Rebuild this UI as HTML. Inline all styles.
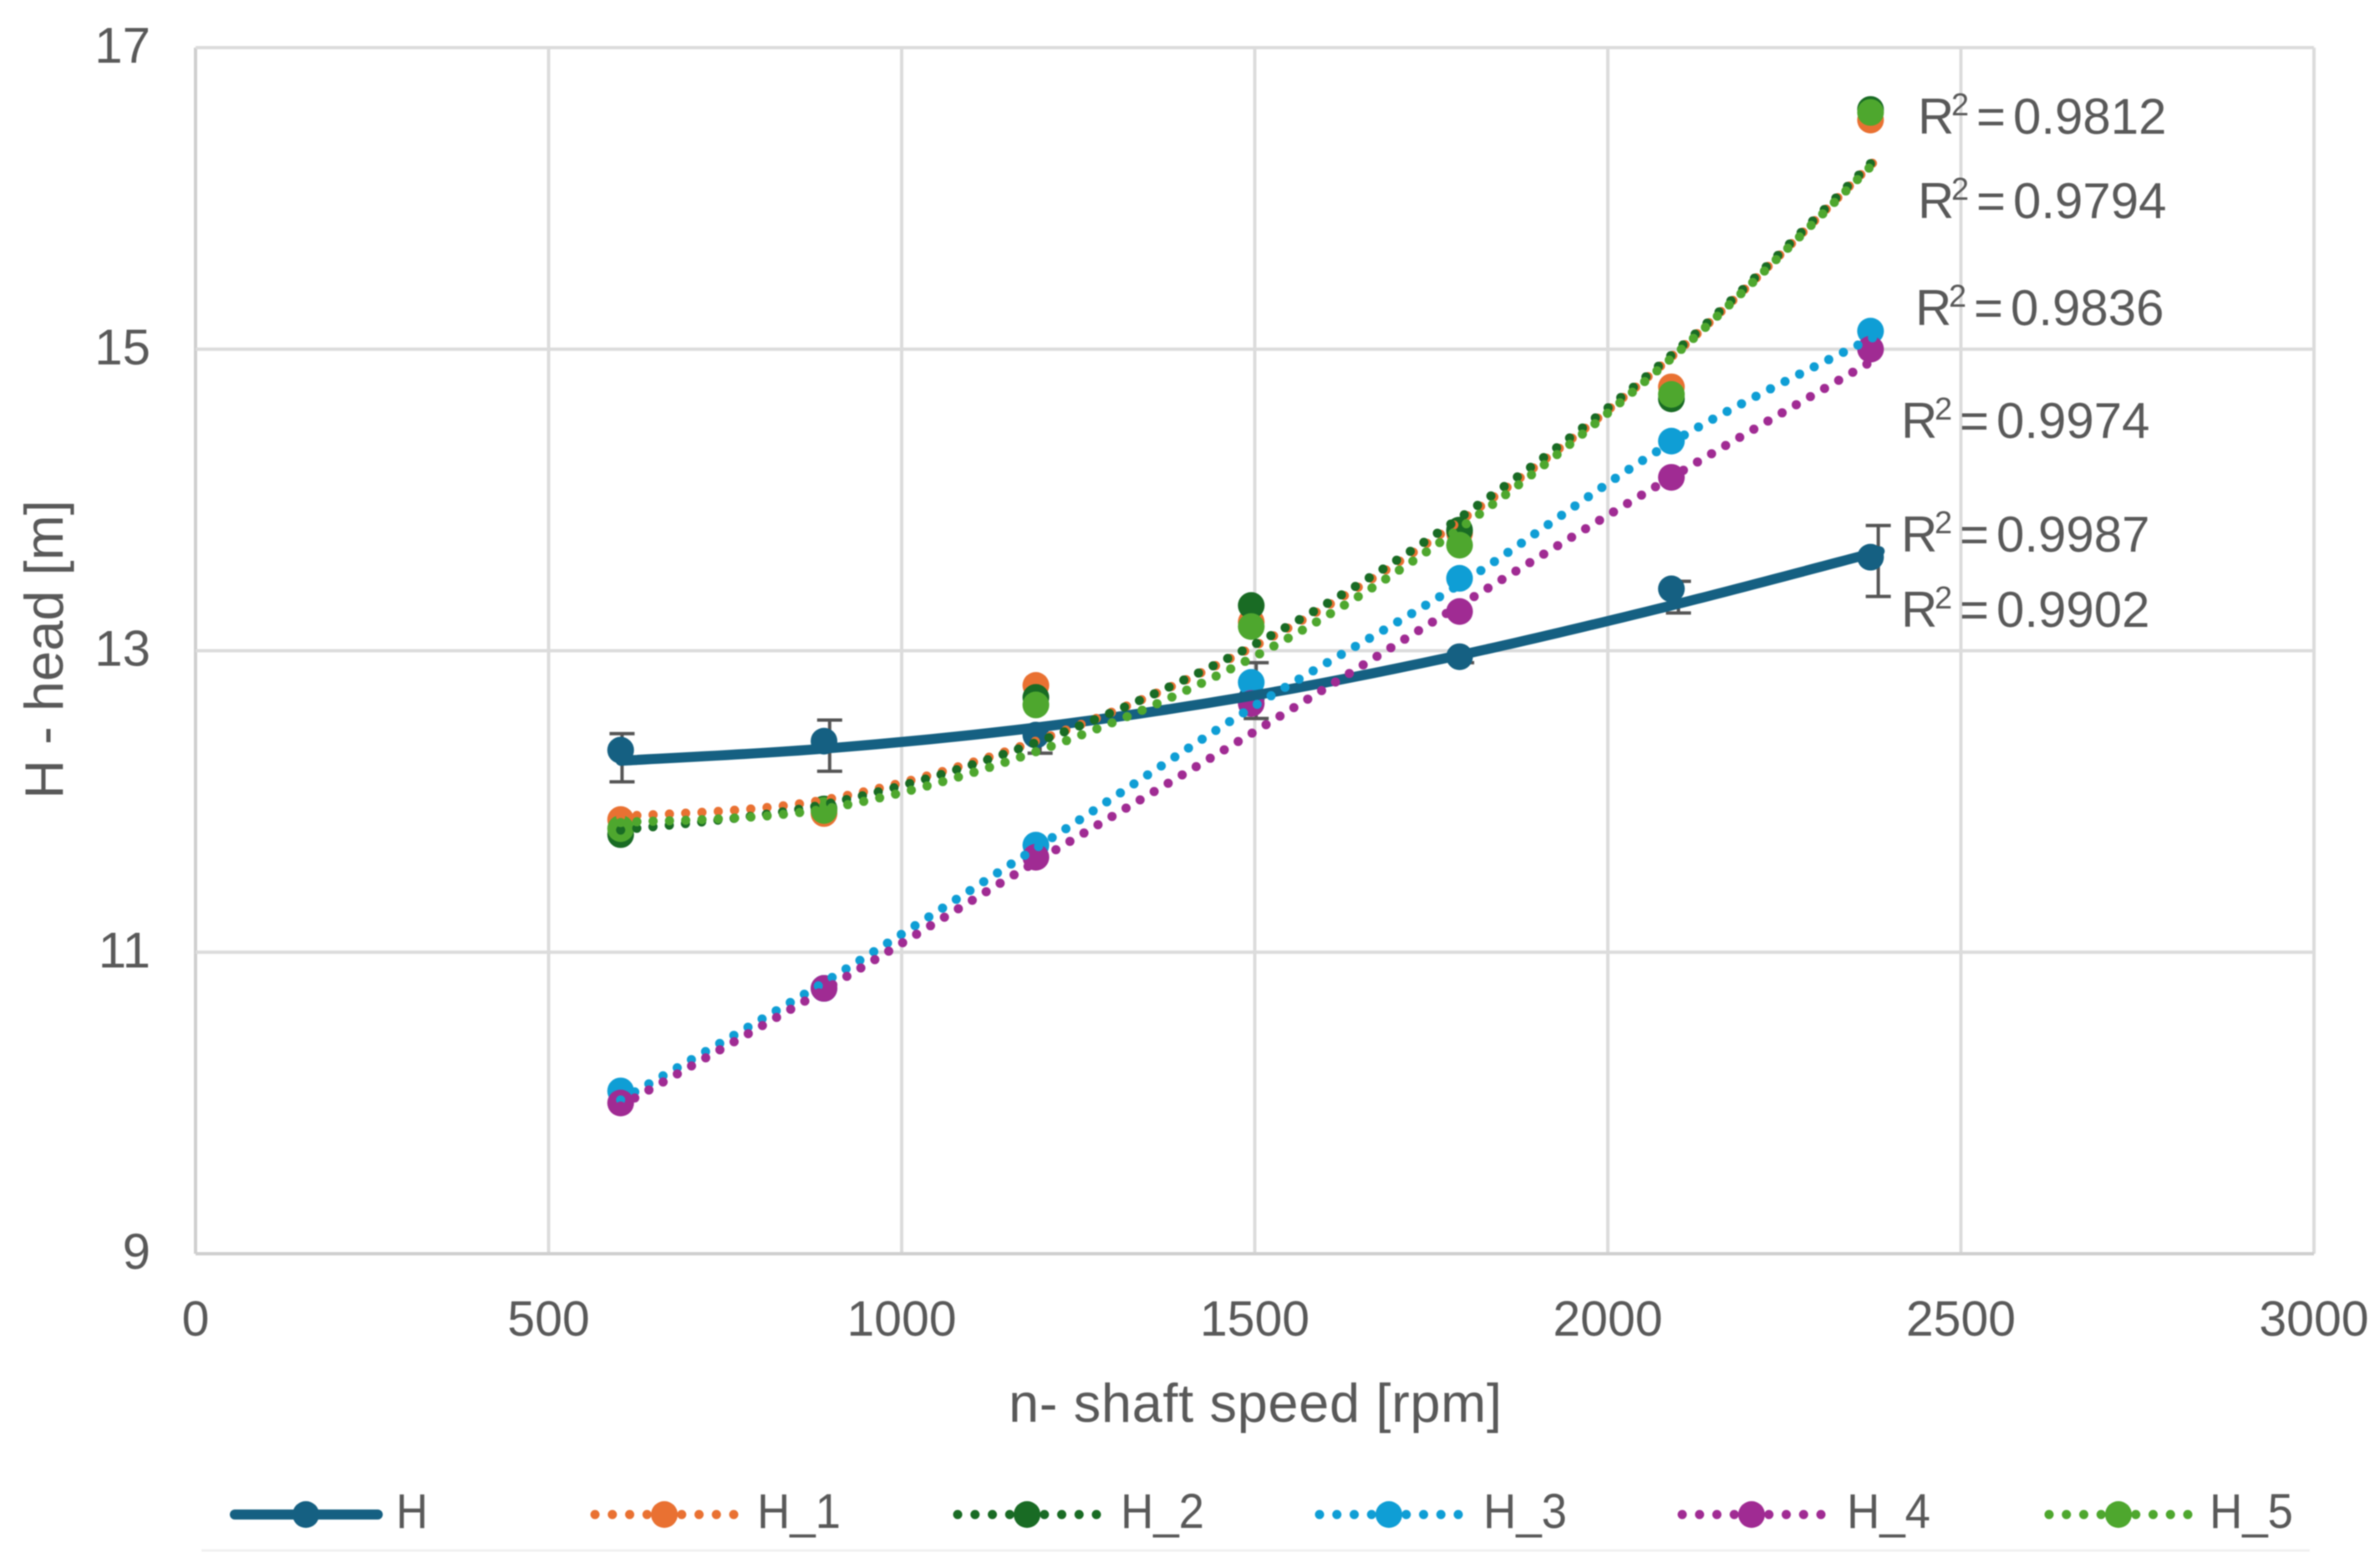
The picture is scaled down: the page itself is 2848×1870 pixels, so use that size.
<!DOCTYPE html>
<html>
<head>
<meta charset="utf-8">
<title>Head vs shaft speed</title>
<style>
html,body{margin:0;padding:0;background:#fff;width:2848px;height:1870px;overflow:hidden}
svg{display:block;filter:blur(0.7px)}
text{font-family:"Liberation Sans",sans-serif;fill:#595959}
</style>
</head>
<body>
<svg id="chart" width="2848" height="1870" viewBox="0 0 2848 1870" xmlns="http://www.w3.org/2000/svg">
<line x1="241" y1="1855" x2="2764" y2="1855" stroke="#f1f1f1" stroke-width="3"/>
<text x="1502" y="1701" font-size="65" text-anchor="middle" textLength="590" lengthAdjust="spacing">n- shaft speed [rpm]</text>
<text transform="translate(75,777) rotate(-90)" font-size="65" text-anchor="middle">H - head [m]</text>
</svg>
<script>
var xTicks = [0, 500, 1000, 1500, 2000, 2500, 3000];
var yTicks = [9, 11, 13, 15, 17];
var rpm = [602, 890, 1190, 1495, 1790, 2090, 2372];
var errRpm = [604, 898, 1196, 1502, 1793, 2100, 2383];
var trendRpm = [602, 890, 1190, 1495, 1790, 2090, 2385];

var seriesNames = ['H', 'H_1', 'H_2', 'H_3', 'H_4', 'H_5'];
var seriesColors = ['#156082', '#E97132', '#196B24', '#0F9ED5', '#A02B93', '#4EA72E'];

var valuesH  = [12.34, 12.40, 12.44, 12.68, 12.96, 13.41, 13.62];
var valuesH1 = [11.88, 11.92, 12.77, 13.19, 13.78, 14.75, 16.52];
var valuesH2 = [11.78, 11.95, 12.69, 13.30, 13.80, 14.67, 16.59];
var valuesH3 = [10.08, 10.76, 11.71, 12.79, 13.48, 14.39, 15.12];
var valuesH4 = [10.00, 10.76, 11.63, 12.65, 13.26, 14.15, 15.00];
var valuesH5 = [11.82, 11.94, 12.64, 13.16, 13.70, 14.70, 16.57];

var trendH  = [12.27, 12.35, 12.49, 12.70, 12.97, 13.30, 13.66];
var trendH1 = [11.90, 12.01, 12.40, 13.02, 13.86, 14.95, 16.28];
var trendH2 = [11.81, 11.98, 12.39, 13.03, 13.88, 14.96, 16.29];
var trendH3 = [10.02, 10.80, 11.69, 12.62, 13.44, 14.38, 15.10];
var trendH4 = [9.98, 10.75, 11.60, 12.45, 13.30, 14.15, 14.95];
var trendH5 = [11.86, 11.95, 12.33, 12.95, 13.81, 14.94, 16.27];

var errHigh = [12.45, 12.54, 12.50, 12.92, 12.98, 13.46, 13.83];
var errLow  = [12.13, 12.20, 12.32, 12.55, 12.92, 13.25, 13.36];

var r2Values = ['0.9812', '0.9794', '0.9836', '0.9974', '0.9987', '0.9902'];
var r2X = [2295, 2295, 2292, 2275, 2275, 2275];
var r2Y = [160, 261, 389, 524, 660, 750];

var allValues = [valuesH, valuesH1, valuesH2, valuesH3, valuesH4, valuesH5];
var allTrends = [trendH, trendH1, trendH2, trendH3, trendH4, trendH5];

var legendCenter = [366, 795, 1229, 1662, 2096, 2535];
var legendLabelX = [474, 906, 1341, 1775, 2210, 2644];

var PLOT = {left: 234, right: 2769, top: 57, bottom: 1500, xMax: 3000, yMin: 9, yMax: 17};
function sx(v) { return PLOT.left + (v / PLOT.xMax) * (PLOT.right - PLOT.left); }
function sy(v) { return PLOT.bottom - ((v - PLOT.yMin) / (PLOT.yMax - PLOT.yMin)) * (PLOT.bottom - PLOT.top); }

var svg = document.getElementById('chart');
var NS = 'http://www.w3.org/2000/svg';
function mk(tag, attrs, parent) {
  var el = document.createElementNS(NS, tag);
  for (var k in attrs) el.setAttribute(k, attrs[k]);
  (parent || svg).appendChild(el);
  return el;
}
function smoothPath(xs, ys) {
  var pts = xs.map(function (x, i) { return [sx(x), sy(ys[i])]; });
  var d = 'M' + pts[0][0].toFixed(1) + ' ' + pts[0][1].toFixed(1);
  for (var i = 0; i < pts.length - 1; i++) {
    var p0 = pts[Math.max(0, i - 1)], p1 = pts[i], p2 = pts[i + 1], p3 = pts[Math.min(pts.length - 1, i + 2)];
    var c1x = p1[0] + (p2[0] - p0[0]) / 6, c1y = p1[1] + (p2[1] - p0[1]) / 6;
    var c2x = p2[0] - (p3[0] - p1[0]) / 6, c2y = p2[1] - (p3[1] - p1[1]) / 6;
    d += 'C' + c1x.toFixed(1) + ' ' + c1y.toFixed(1) + ' ' + c2x.toFixed(1) + ' ' + c2y.toFixed(1) + ' ' + p2[0].toFixed(1) + ' ' + p2[1].toFixed(1);
  }
  return d;
}

/* grid */
xTicks.forEach(function (t) {
  var axis = t === 0;
  var el = mk('line', {x1: sx(t), x2: sx(t), y1: PLOT.top, y2: PLOT.bottom, stroke: axis ? '#cfcfcf' : '#dcdcdc', 'stroke-width': 4});
  
  
  var lb = mk('text', {x: sx(t), y: 1598, 'font-size': 59, 'text-anchor': 'middle'});
  lb.textContent = t;
  
  
});
yTicks.forEach(function (t) {
  var axis = t === PLOT.yMin;
  var el = mk('line', {x1: PLOT.left, x2: PLOT.right, y1: sy(t), y2: sy(t), stroke: axis ? '#cfcfcf' : '#dcdcdc', 'stroke-width': 4});
  
  
  var lb = mk('text', {x: 180, y: sy(t) + 18, 'font-size': 60, 'text-anchor': 'end'});
  lb.textContent = t;
  
  
});

/* error bars */
errRpm.forEach(function (x, i) {
  var g = mk('g', {stroke: '#555555', 'stroke-width': 4, fill: 'none'});
  
  
  var px = sx(x), hi = sy(errHigh[i]), lo = sy(errLow[i]);
  mk('line', {x1: px, x2: px, y1: hi, y2: lo}, g);
  mk('line', {x1: px - 15, x2: px + 15, y1: hi, y2: hi}, g);
  mk('line', {x1: px - 15, x2: px + 15, y1: lo, y2: lo}, g);
});

/* data markers */
allValues.forEach(function (vals, s) {
  vals.forEach(function (v, i) {
    var c = mk('circle', {cx: sx(rpm[i]), cy: sy(v), r: 16, fill: seriesColors[s]});
    
    
  });
});

/* trend lines */
allTrends.forEach(function (vals, s) {
  var attrs = {d: smoothPath(trendRpm, vals), fill: 'none', stroke: seriesColors[s], 'stroke-linecap': 'round', 'stroke-width': s === 0 ? 12 : 11};
  if (s > 0) attrs['stroke-dasharray'] = '0 19.5';
  var p = mk('path', attrs);
  
  
});

/* R squared labels */
r2Values.forEach(function (val, i) {
  var t = mk('text', {x: r2X[i], y: r2Y[i], 'font-size': 60});
  
  
  var a = mk('tspan', {x: r2X[i], y: r2Y[i]}, t);
  a.textContent = 'R';
  var b = mk('tspan', {x: r2X[i] + 40, y: r2Y[i] - 22, 'font-size': 38}, t);
  b.textContent = '2';
  var c = mk('tspan', {x: r2X[i] + 70, y: r2Y[i]}, t);
  c.textContent = '=';
  var d = mk('tspan', {x: r2X[i] + 114, y: r2Y[i]}, t);
  d.textContent = val;
});

/* legend */
seriesNames.forEach(function (name, s) {
  var g = mk('g', {});
  
  
  var c = legendCenter[s], y = 1812, half = s === 0 ? 85 : 83;
  var attrs = {x1: c - half, x2: c + half + 1, y1: y, y2: y, stroke: seriesColors[s], 'stroke-linecap': 'round', 'stroke-width': s === 0 ? 12 : 11};
  if (s > 0) attrs['stroke-dasharray'] = '0 20.75';
  mk('line', attrs, g);
  mk('circle', {cx: c, cy: y, r: 16, fill: seriesColors[s]}, g);
  var lb = mk('text', {x: legendLabelX[s], y: 1828, 'font-size': 58, textLength: name.length > 1 ? 100 : 38, lengthAdjust: 'spacingAndGlyphs'}, g);
  lb.textContent = name;
});
</script>
</body>
</html>
